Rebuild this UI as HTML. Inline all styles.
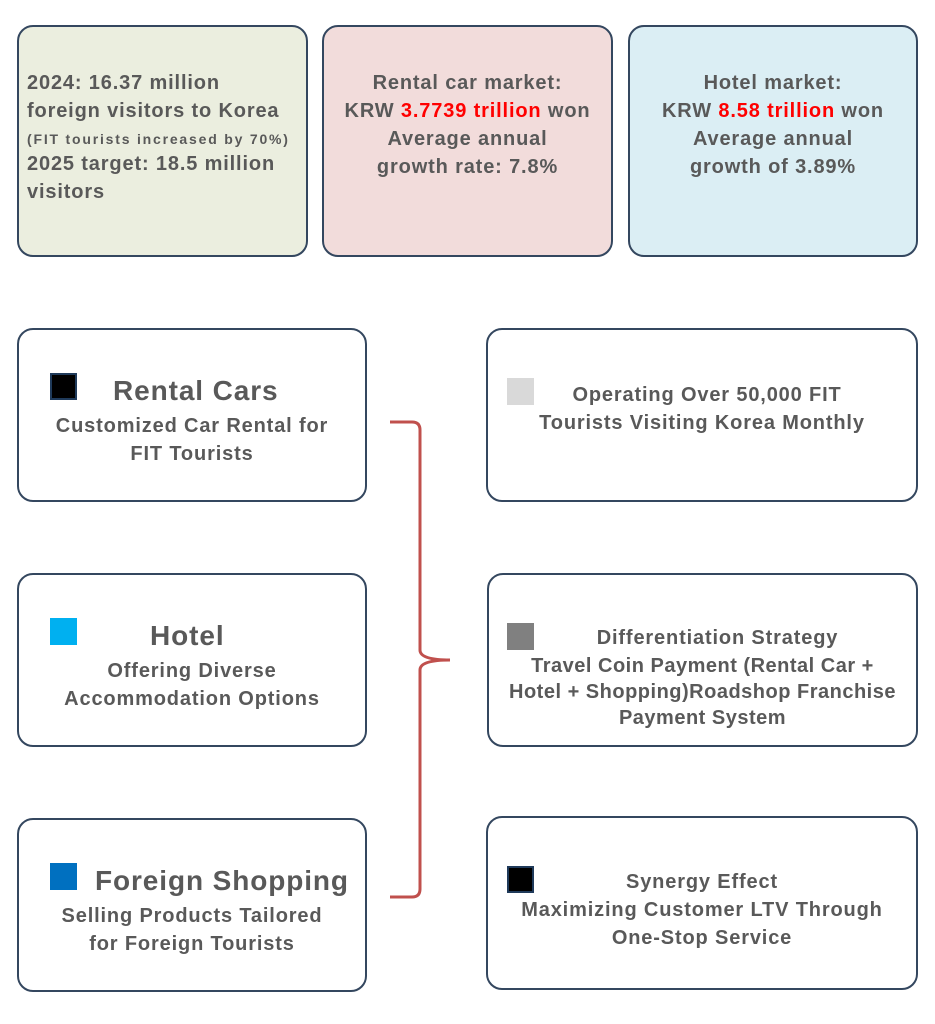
<!DOCTYPE html>
<html><head><meta charset="utf-8"><style>
body{margin:0;width:935px;height:1024px;background:#fff;position:relative;font-family:"Liberation Sans","DejaVu Sans",sans-serif;font-weight:bold;color:#595959;overflow:hidden}
.b{position:absolute;border:2px solid #34475f;border-radius:16px;box-sizing:border-box}
.t{position:absolute;white-space:nowrap;font-size:20px;line-height:28px;letter-spacing:0.85px}
.c{text-align:center}
.r{color:#ff0000}
.sq{position:absolute;width:22px;height:22px;box-sizing:border-box}
.h{font-size:28px!important;line-height:34px!important;letter-spacing:0.9px!important}
</style></head><body>
<div class="b" style="left:17px;top:25px;width:291px;height:232px;background:#ebeedf"></div>
<div class="b" style="left:322px;top:25px;width:291px;height:232px;background:#f2dcdb"></div>
<div class="b" style="left:628px;top:25px;width:290px;height:232px;background:#dbeef4"></div>
<div class="t" style="left:27px;top:69px">2024: 16.37 million<br>foreign visitors to Korea</div>
<div class="t" style="left:27px;top:126px;font-size:14px;line-height:26px;letter-spacing:1.8px">(FIT tourists increased by 70%)</div>
<div class="t" style="left:27px;top:150px">2025 target: 18.5 million<br>visitors</div>
<div class="t c" style="left:322px;width:291px;top:69px">Rental car market:<br>KRW <span class="r">3.7739 trillion</span> won<br>Average annual<br>growth rate: 7.8%</div>
<div class="t c" style="left:628px;width:290px;top:69px">Hotel market:<br>KRW <span class="r">8.58 trillion</span> won<br>Average annual<br>growth of 3.89%</div>

<div class="b" style="left:17px;top:328px;width:350px;height:174px"></div>
<div class="b" style="left:486px;top:328px;width:432px;height:174px"></div>
<div class="b" style="left:17px;top:573px;width:350px;height:174px"></div>
<div class="b" style="left:487px;top:573px;width:431px;height:174px"></div>
<div class="b" style="left:17px;top:818px;width:350px;height:174px"></div>
<div class="b" style="left:486px;top:816px;width:432px;height:174px"></div>

<div class="sq" style="left:50px;top:373px;background:#000;border:2px solid #1f3a5a;width:27px;height:27px"></div>
<div class="t h" style="left:113px;top:374px">Rental Cars</div>
<div class="t c" style="left:17px;width:350px;top:412px">Customized Car Rental for<br>FIT Tourists</div>

<div class="sq" style="left:50px;top:618px;background:#00b0f0;width:27px;height:27px"></div>
<div class="t h" style="left:150px;top:619px">Hotel</div>
<div class="t c" style="left:17px;width:350px;top:657px">Offering Diverse<br>Accommodation Options</div>

<div class="sq" style="left:50px;top:863px;background:#0070c0;width:27px;height:27px"></div>
<div class="t h" style="left:95px;top:864px">Foreign Shopping</div>
<div class="t c" style="left:17px;width:350px;top:902px">Selling Products Tailored<br>for Foreign Tourists</div>

<div class="sq" style="left:507px;top:378px;background:#d9d9d9;width:27px;height:27px"></div>
<div class="t c" style="left:486px;width:432px;top:381px"><span style="position:relative;left:5px">Operating Over 50,000 FIT</span><br>Tourists Visiting Korea Monthly</div>

<div class="sq" style="left:507px;top:623px;background:#808080;width:27px;height:27px"></div>
<div class="t c" style="left:487px;width:431px;top:624px"><span style="position:relative;left:15px">Differentiation Strategy</span></div>
<div class="t c" style="left:487px;width:431px;top:653px;line-height:26px;letter-spacing:0.5px">Travel Coin Payment (Rental Car +<br>Hotel + Shopping)Roadshop Franchise<br>Payment System</div>

<div class="sq" style="left:507px;top:866px;background:#000;border:2px solid #1f3a5a;width:27px;height:27px"></div>
<div class="t c" style="left:486px;width:432px;top:868px">Synergy Effect<br>Maximizing Customer LTV Through<br>One-Stop Service</div>

<svg style="position:absolute;left:0;top:0" width="935" height="1024">
<path d="M390 422 L412 422 Q420 422 420 430 L420 650 Q420 660 450 660 Q420 660 420 670 L420 889 Q420 897 412 897 L390 897" fill="none" stroke="#c0504d" stroke-width="3"/>
</svg>
</body></html>
